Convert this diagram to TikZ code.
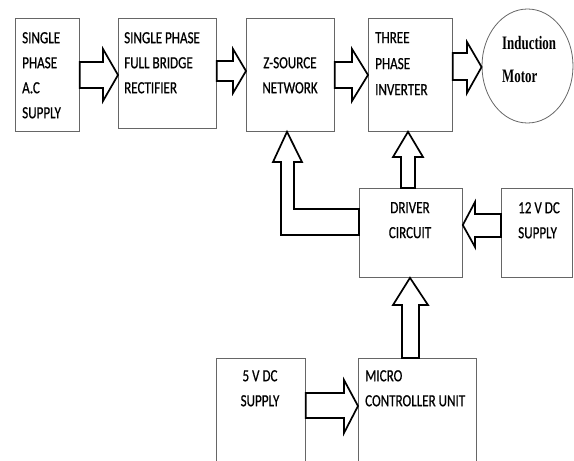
\documentclass[tikz,border=0pt]{standalone}
\usepackage{fontspec}
\setmainfont{Carlito}[FakeStretch=0.77, FakeBold=0.6]
\newfontfamily\motorfont{Liberation Serif}[FakeStretch=0.68]
\usetikzlibrary{shapes.geometric}

\begin{document}
\begin{tikzpicture}[x=1pt, y=-1pt,
    blk/.style={draw=gray!80!black, line width=0.8pt, rectangle, inner sep=0pt, anchor=north west},
    txt/.style={inner sep=0pt, font=\fontsize{17}{25}\selectfont, align=left, anchor=north west},
    fat/.style={draw=black, line width=1.7pt, fill=white, line join=miter}]
  \useasboundingbox (0,0) rectangle (574,461);
  \clip (0,0) rectangle (574,461);

  % top row
  \node[blk, minimum width=64pt, minimum height=113pt] (ac) at (15,18) {};
  \node[blk, minimum width=98pt, minimum height=110pt] (rect) at (118,18) {};
  \node[blk, minimum width=88pt, minimum height=113pt] (zsrc) at (246,18) {};
  \node[blk, minimum width=84pt, minimum height=113pt] (inv) at (368,18) {};
  \node[draw=gray!80!black, line width=0.8pt, ellipse, inner sep=0pt,
        minimum width=91pt, minimum height=114pt] (motor) at (527.5,66) {};

  % middle and bottom rows
  \node[blk, minimum width=103pt, minimum height=89pt] (drv) at (359,188) {};
  \node[blk, minimum width=71pt, minimum height=89pt] (dc12) at (501,188) {};
  \node[blk, minimum width=89pt, minimum height=120pt] (dc5) at (216,358) {};
  \node[blk, minimum width=118pt, minimum height=120pt] (mcu) at (358,358) {};

  % labels
  \node[txt] (ac-t) at (22,32) {SINGLE\\PHASE\\A.C\\SUPPLY};
  \node[txt] (rect-t) at (124,32) {SINGLE PHASE\\FULL BRIDGE\\RECTIFIER};
  \node[txt, align=center, anchor=north] (zsrc-t) at (290,57) {Z-SOURCE\\NETWORK};
  \node[txt, font=\fontsize{17}{26}\selectfont] (inv-t) at (375,32) {THREE\\PHASE\\INVERTER};
  \node[txt, font=\motorfont\bfseries\fontsize{19}{33}\selectfont] (motor-t) at (502,36) {Induction\\Motor};
  \node[txt, align=center, anchor=north] (drv-t) at (410,202) {DRIVER\\CIRCUIT};
  \node[txt] (dc12-t) at (518,202) {12 V DC\\SUPPLY};
  \node[txt, align=center, anchor=north] (dc5-t) at (260,370) {5 V DC\\SUPPLY};
  \node[txt] (mcu-t) at (365,370) {MICRO\\CONTROLLER UNIT};

  % block arrows
  \draw[fat] (ac.east |- 0,62) -- (103,62) -- (103,49) -- (rect.west |- 0,75)
    -- (103,101) -- (103,88) -- (ac.east |- 0,88) -- cycle;
  \draw[fat] (rect.east |- 0,61) -- (233,61) -- (233,49) -- (zsrc.west |- 0,71)
    -- (233,93) -- (233,81) -- (rect.east |- 0,81) -- cycle;
  \draw[fat] (zsrc.east |- 0,62) -- (352,62) -- (352,49) -- (inv.west |- 0,75)
    -- (352,101) -- (352,88) -- (zsrc.east |- 0,88) -- cycle;
  \draw[fat] (inv.east |- 0,53) -- (467,53) -- (467,42) -- (motor.west |- 0,67)
    -- (467,93) -- (467,80) -- (inv.east |- 0,80) -- cycle;

  \draw[fat] (dc12.west |- 0,214) -- (475,214) -- (475,202) -- (drv.east |- 0,225)
    -- (475,247) -- (475,237) -- (dc12.west |- 0,237) -- cycle;
  \draw[fat] (401,0 |- drv.north) -- (401,157) -- (393,157) -- (408,0 |- inv.south)
    -- (423,157) -- (415,157) -- (415,0 |- drv.north) -- cycle;
  \draw[fat] (drv.west |- 0,209) -- (294,209) -- (294,162) -- (302,162)
    -- (287,0 |- zsrc.south) -- (273,162) -- (281,162) -- (281,235)
    -- (drv.west |- 0,235) -- cycle;

  \draw[fat] (402,0 |- mcu.north) -- (402,305) -- (393,305) -- (410,0 |- drv.south)
    -- (428,305) -- (419,305) -- (419,0 |- mcu.north) -- cycle;
  \draw[fat] (dc5.east |- 0,393) -- (344,393) -- (344,380) -- (mcu.west |- 0,406)
    -- (344,433) -- (344,418) -- (dc5.east |- 0,418) -- cycle;
\end{tikzpicture}
\end{document}
